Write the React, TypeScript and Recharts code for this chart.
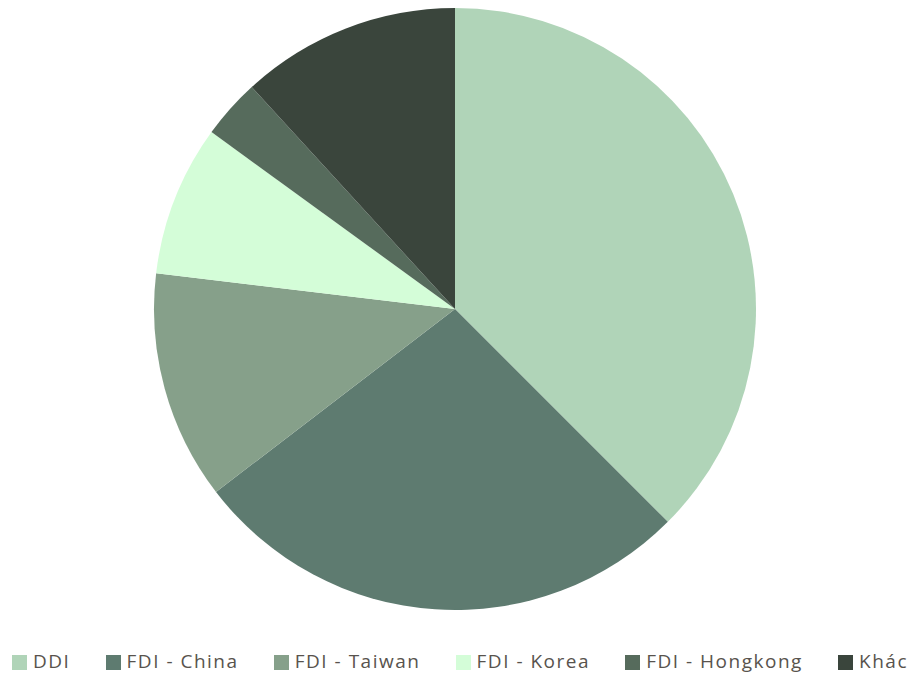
import { PieChart, Pie, Cell, Legend } from "recharts";

const categories = ["DDI", "FDI - China", "FDI - Taiwan", "FDI - Korea", "FDI - Hongkong", "Khác"];
const shares = [37.5, 27.1, 12.3, 8.1, 3.2, 11.8];
const colors = ["#b0d4b8", "#5e7b70", "#86a08a", "#d4fdd8", "#566b5c", "#3a453c"];

const data = categories.map((name, i) => ({ name, value: shares[i] }));

const LegendRow = () => (
  <div
    style={{
      display: "flex",
      justifyContent: "space-between",
      alignItems: "center",
      padding: "0 2px 0 12px",
      fontFamily: "'Open Sans', sans-serif",
      fontSize: 19,
      letterSpacing: 1.5,
      color: "#58534d",
      lineHeight: "20px",
      height: 20,
    }}
  >
    {categories.map((c, i) => (
      <div key={c} style={{ display: "flex", alignItems: "center", whiteSpace: "nowrap" }}>
        <span
          style={{
            display: "inline-block",
            width: 15,
            height: 15,
            background: colors[i],
            marginRight: 6,
            marginTop: 2,
          }}
        />
        <span>{c}</span>
      </div>
    ))}
  </div>
);

export default function App() {
  return (
    <>
      <style>{`body { margin: 0; }`}</style>
      <PieChart width={910} height={674} margin={{ top: 0, right: 0, bottom: 0, left: 0 }}>
        <Pie
          data={data}
          dataKey="value"
          nameKey="name"
          cx={455}
          cy={309}
          outerRadius={301}
          startAngle={90}
          endAngle={-270}
          stroke="none"
          isAnimationActive={false}
        >
          {data.map((d, i) => (
            <Cell key={d.name} fill={colors[i]} />
          ))}
        </Pie>
        <Legend
          content={() => <LegendRow />}
          wrapperStyle={{ top: 651, left: 0, width: 910, bottom: "auto" }}
        />
      </PieChart>
    </>
  );
}
